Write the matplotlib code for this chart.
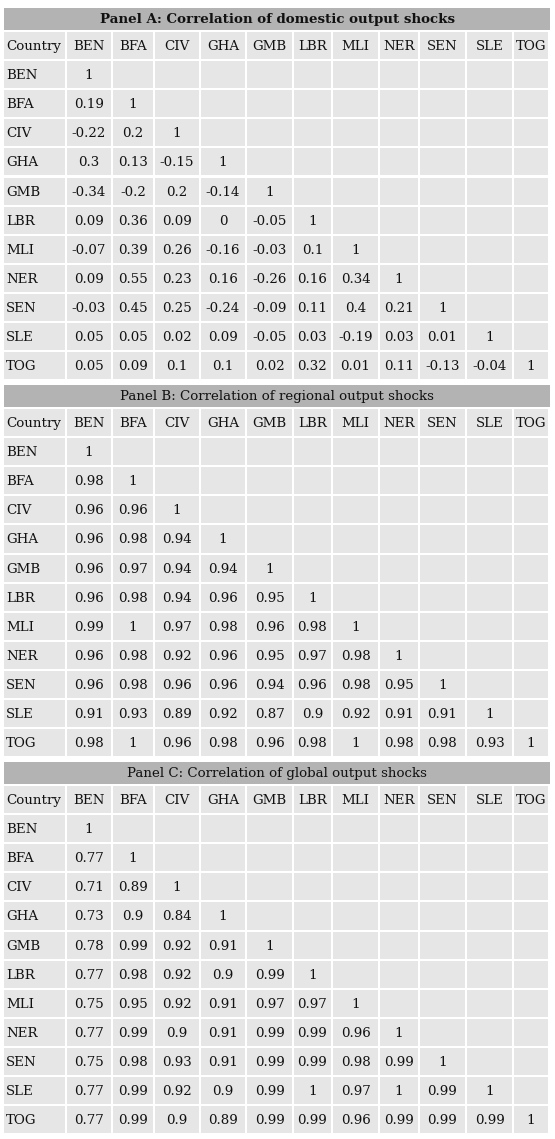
import matplotlib.pyplot as plt
from matplotlib.patches import Rectangle

countries = ['BEN', 'BFA', 'CIV', 'GHA', 'GMB', 'LBR', 'MLI', 'NER', 'SEN', 'SLE', 'TOG']

titles = ['Panel A: Correlation of domestic output shocks',
          'Panel B: Correlation of regional output shocks',
          'Panel C: Correlation of global output shocks']

domestic = [
    ['1'],
    ['0.19', '1'],
    ['-0.22', '0.2', '1'],
    ['0.3', '0.13', '-0.15', '1'],
    ['-0.34', '-0.2', '0.2', '-0.14', '1'],
    ['0.09', '0.36', '0.09', '0', '-0.05', '1'],
    ['-0.07', '0.39', '0.26', '-0.16', '-0.03', '0.1', '1'],
    ['0.09', '0.55', '0.23', '0.16', '-0.26', '0.16', '0.34', '1'],
    ['-0.03', '0.45', '0.25', '-0.24', '-0.09', '0.11', '0.4', '0.21', '1'],
    ['0.05', '0.05', '0.02', '0.09', '-0.05', '0.03', '-0.19', '0.03', '0.01', '1'],
    ['0.05', '0.09', '0.1', '0.1', '0.02', '0.32', '0.01', '0.11', '-0.13', '-0.04', '1'],
]
regional = [
    ['1'],
    ['0.98', '1'],
    ['0.96', '0.96', '1'],
    ['0.96', '0.98', '0.94', '1'],
    ['0.96', '0.97', '0.94', '0.94', '1'],
    ['0.96', '0.98', '0.94', '0.96', '0.95', '1'],
    ['0.99', '1', '0.97', '0.98', '0.96', '0.98', '1'],
    ['0.96', '0.98', '0.92', '0.96', '0.95', '0.97', '0.98', '1'],
    ['0.96', '0.98', '0.96', '0.96', '0.94', '0.96', '0.98', '0.95', '1'],
    ['0.91', '0.93', '0.89', '0.92', '0.87', '0.9', '0.92', '0.91', '0.91', '1'],
    ['0.98', '1', '0.96', '0.98', '0.96', '0.98', '1', '0.98', '0.98', '0.93', '1'],
]
global_ = [
    ['1'],
    ['0.77', '1'],
    ['0.71', '0.89', '1'],
    ['0.73', '0.9', '0.84', '1'],
    ['0.78', '0.99', '0.92', '0.91', '1'],
    ['0.77', '0.98', '0.92', '0.9', '0.99', '1'],
    ['0.75', '0.95', '0.92', '0.91', '0.97', '0.97', '1'],
    ['0.77', '0.99', '0.9', '0.91', '0.99', '0.99', '0.96', '1'],
    ['0.75', '0.98', '0.93', '0.91', '0.99', '0.99', '0.98', '0.99', '1'],
    ['0.77', '0.99', '0.92', '0.9', '0.99', '1', '0.97', '1', '0.99', '1'],
    ['0.77', '0.99', '0.9', '0.89', '0.99', '0.99', '0.96', '0.99', '0.99', '0.99', '1'],
]
panels = [domestic, regional, global_]

# column edges in pixels
edges = [4, 67, 113, 155, 201, 247, 294, 333, 380, 420, 467, 514, 550]
gap = 2

fig = plt.figure(figsize=(5.55, 11.39), dpi=100)
ax = fig.add_axes([0, 0, 1, 1])
ax.set_xlim(0, 555)
ax.set_ylim(1139, 0)
ax.axis('off')

font = 'DejaVu Serif'
fs = 9.6
rowh = 29.1
for p, data in enumerate(panels):
    top = 8 + p * 377
    ax.add_patch(Rectangle((4, top), 546, 22, color='#b3b3b3', lw=0))
    ax.text(277, top + 11.5, titles[p], ha='center', va='center', family=font,
            fontsize=fs, weight='bold' if p == 0 else 'normal', color='#111111')
    y0 = top + 24
    rows = [['Country'] + countries] + [[c] + data[i] for i, c in enumerate(countries)]
    for r, row in enumerate(rows):
        y = y0 + r * rowh
        for c in range(12):
            x1, x2 = edges[c], edges[c + 1] - gap
            ax.add_patch(Rectangle((x1, y), x2 - x1, rowh - gap, color='#e6e6e6', lw=0))
            if c < len(row):
                if c == 0:
                    ax.text(x1 + 2, y + rowh / 2, row[c], ha='left', va='center',
                            family=font, fontsize=fs, color='#111111')
                else:
                    ax.text((x1 + x2) / 2, y + rowh / 2, row[c], ha='center', va='center',
                            family=font, fontsize=fs, color='#111111')

fig.savefig('out.png', dpi=100)
